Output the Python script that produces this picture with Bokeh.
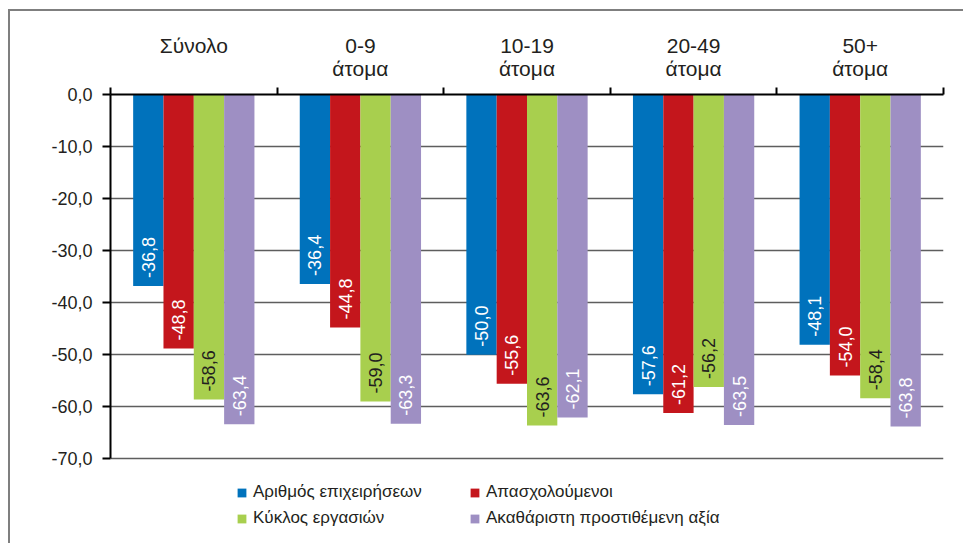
import math
from bokeh.plotting import figure
from bokeh.layouts import column
from bokeh.models import (Range1d, FixedTicker, LinearAxis, Legend, LegendItem,
                          ColumnDataSource, Div)
from bokeh.core.properties import value
from bokeh.transform import dodge
from bokeh.embed import file_html
from bokeh.resources import INLINE

# ---------------- data ----------------
categories = ["Σύνολο\n\u00a0", "0-9\nάτομα", "10-19\nάτομα", "20-49\nάτομα", "50+\nάτομα"]
series_names = ["Αριθμός επιχειρήσεων", "Απασχολούμενοι",
                "Κύκλος εργασιών", "Ακαθάριστη προστιθέμενη αξία"]
firms = [-36.8, -36.4, -50.0, -57.6, -48.1]
employed = [-48.8, -44.8, -55.6, -61.2, -54.0]
turnover = [-58.6, -59.0, -63.6, -56.2, -58.4]
gva = [-63.4, -63.3, -62.1, -63.5, -63.8]
y_ticks = [0, -10, -20, -30, -40, -50, -60, -70]
y_tick_labels = ["0,0", "-10,0", "-20,0", "-30,0", "-40,0", "-50,0", "-60,0", "-70,0"]

# ---------------- style ----------------
colors = ["#0072BC", "#C4161C", "#A8CF4E", "#9E8FC3"]
label_colors = ["white", "white", "#231f20", "white"]
FONT = "Liberation Sans"
TXT = "#231f20"
FRAME = "#7f7f7f"
bar_w = 0.182
offsets = [-1.5 * bar_w, -0.5 * bar_w, 0.5 * bar_w, 1.5 * bar_w]
Y_MIN, Y_MAX = -70, 0          # axis extent
Y_VIEW_MIN = -86.3             # frame extends below the axis to hold the legend

n = len(categories)
centers = [i + 0.5 for i in range(n)]
bounds = list(range(n + 1))

p = figure(width=953, height=532, output_backend="svg", toolbar_location=None,
           x_range=Range1d(0, n), y_range=Range1d(Y_VIEW_MIN, Y_MAX),
           x_axis_location=None, y_axis_location="left",
           min_border_left=100, min_border_right=20,
           min_border_top=83, min_border_bottom=0)
p.styles = {"border-left": f"2px solid {FRAME}"}
p.outline_line_color = None
p.background_fill_color = "white"
p.border_fill_color = "white"

# y axis
ya = p.yaxis[0]
ya.ticker = FixedTicker(ticks=y_ticks)
ya.bounds = (Y_MIN, Y_MAX)
ya.major_label_overrides = {t: l for t, l in zip(y_ticks, y_tick_labels)}
ya.axis_line_color = "black"
ya.axis_line_width = 2
ya.major_tick_line_color = "black"
ya.major_tick_line_width = 2
ya.major_tick_out = 8
ya.major_tick_in = 0
ya.minor_tick_line_color = None
ya.major_label_text_font = FONT
ya.major_label_text_font_size = "18px"
ya.major_label_text_color = TXT
ya.major_label_standoff = 10

p.xgrid.visible = False
p.ygrid.ticker = FixedTicker(ticks=y_ticks)
p.ygrid.grid_line_color = "#5e5e5e"
p.ygrid.grid_line_width = 1.5

# top category axis
top = LinearAxis(ticker=FixedTicker(ticks=centers, minor_ticks=bounds),
                 major_label_overrides={c: l for c, l in zip(centers, categories)},
                 major_tick_line_color=None, major_tick_out=0, major_tick_in=0,
                 minor_tick_out=7, minor_tick_in=0, minor_tick_line_color="black",
                 minor_tick_line_width=2, axis_line_color="black", axis_line_width=2,
                 major_label_standoff=8, major_label_text_font=FONT,
                 major_label_text_font_size="21px", major_label_text_color=TXT,
                 major_label_text_line_height=1.0)
p.add_layout(top, "above")

items = []
for k, vals in enumerate([firms, employed, turnover, gva]):
    src = ColumnDataSource(dict(
        x=centers, top=vals,
        label=[f"{v:.1f}".replace(".", ",") for v in vals]))
    r = p.vbar(x=dodge("x", offsets[k]), top="top", bottom=0, width=bar_w,
               fill_color=colors[k], line_color=None, source=src)
    p.text(x=dodge("x", offsets[k]), y="top", text="label", angle=math.pi / 2,
           text_align="left", text_baseline="middle", y_offset=-8,
           text_color=label_colors[k], text_font=value(FONT),
           text_font_size="18px", source=src)
    items.append(LegendItem(label=series_names[k], renderers=[r]))

legend = Legend(items=items, location=(126, 15), orientation="horizontal", ncols=2,
                label_width=210, label_height=20, glyph_width=11, glyph_height=11,
                spacing=6, padding=0, margin=0, label_standoff=6,
                border_line_color=None, background_fill_alpha=0,
                label_text_font=FONT, label_text_font_size="17px",
                label_text_color=TXT)
p.add_layout(legend, "center")

# grey rule along the top of the whole graphic
rule = Div(text="", width=955, height=2, margin=0,
           styles={"background-color": FRAME})
lay = column(rule, p, spacing=0,
             styles={"margin-left": "8px", "margin-top": "9px"})

open("out.html", "w").write(file_html(lay, INLINE))
